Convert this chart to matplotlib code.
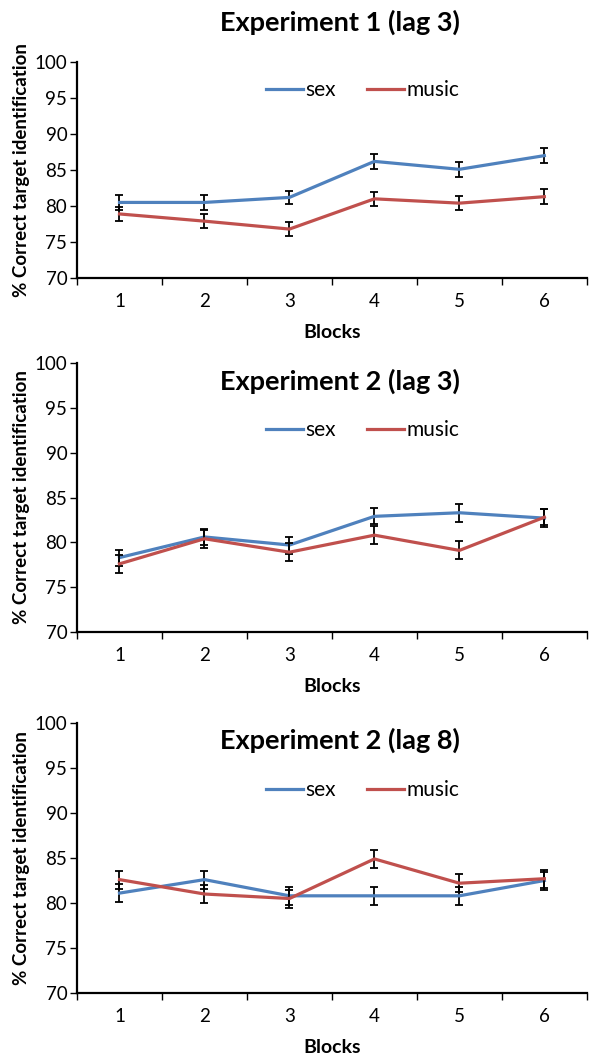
import matplotlib
matplotlib.use("Agg")
import matplotlib.pyplot as plt
import numpy as np

plt.rcParams['font.family'] = ['Lato', 'DejaVu Sans']

blocks = [1, 2, 3, 4, 5, 6]
titles = ['Experiment 1 (lag 3)', 'Experiment 2 (lag 3)', 'Experiment 2 (lag 8)']

# mean % correct per block
sex_means = [
    [80.5, 80.5, 81.2, 86.2, 85.1, 87.0],
    [78.3, 80.6, 79.7, 82.9, 83.3, 82.7],
    [81.1, 82.6, 80.8, 80.8, 80.8, 82.5],
]
music_means = [
    [78.9, 77.9, 76.8, 81.0, 80.4, 81.3],
    [77.6, 80.4, 78.9, 80.8, 79.1, 82.8],
    [82.6, 81.0, 80.5, 84.9, 82.2, 82.7],
]
sex_err = [
    [1.0, 1.0, 0.95, 1.0, 1.0, 1.0],
    [0.9, 0.9, 0.95, 0.9, 1.0, 1.0],
    [1.0, 1.0, 1.0, 1.0, 1.0, 1.0],
]
music_err = [
    [0.95, 0.95, 0.95, 1.0, 1.0, 1.0],
    [1.0, 1.0, 1.0, 1.0, 1.0, 0.9],
    [1.0, 1.0, 1.0, 1.0, 1.0, 1.0],
]

blue = '#4F81BD'
red = '#C0504D'

fig = plt.figure(figsize=(5.97, 10.6), dpi=100)

# axes boxes in figure fraction: left, bottom, width, height
boxes = [
    [0.129, 0.7377, 0.854, 0.2038],
    [0.129, 0.4038, 0.854, 0.2537],
    [0.129, 0.0632, 0.854, 0.2547],
]
title_y = [1.185, 0.933, 0.937]
legend_y = [0.87, 0.751, 0.752]

for i in range(3):
    ax = fig.add_axes(boxes[i])
    ax.errorbar(blocks, sex_means[i], yerr=sex_err[i], color=blue, lw=2.3,
                ecolor='black', elinewidth=1.3, capsize=3, capthick=1.3, label='sex', zorder=2)
    ax.errorbar(blocks, music_means[i], yerr=music_err[i], color=red, lw=2.3,
                ecolor='black', elinewidth=1.3, capsize=3, capthick=1.3, label='music', zorder=3)

    ax.set_xlim(0.5, 6.5)
    ax.set_ylim(70, 100)
    ax.set_yticks(np.arange(70, 101, 5))
    ax.set_xticks(blocks)
    ax.set_xticks(np.arange(0.5, 6.6, 1), minor=True)
    ax.tick_params(axis='x', which='major', length=0, pad=11, labelsize=13.5)
    ax.tick_params(axis='x', which='minor', length=5, width=1, direction='out')
    ax.tick_params(axis='y', length=5, width=1, labelsize=13.5, pad=2)
    for s in ['top', 'right']:
        ax.spines[s].set_visible(False)
    for s in ['left', 'bottom']:
        ax.spines[s].set_linewidth(1.6)

    ax.set_xlabel('Blocks', fontweight='bold', fontsize=14, labelpad=10)
    ax.set_ylabel('% Correct target identification', fontweight='bold', fontsize=13.5, labelpad=3)
    ax.text(0.515, title_y[i], titles[i], transform=ax.transAxes, ha='center', va='center',
            fontsize=19.5, fontweight='bold')

    handles, labels = ax.get_legend_handles_labels()
    handles = [h[0] for h in handles]
    ax.legend(handles, labels, loc='center', bbox_to_anchor=(0.56, legend_y[i]), ncol=2,
              frameon=False, fontsize=15, handlelength=1.8, handletextpad=0.1,
              columnspacing=1.5)

fig.savefig('out.png', dpi=100)
